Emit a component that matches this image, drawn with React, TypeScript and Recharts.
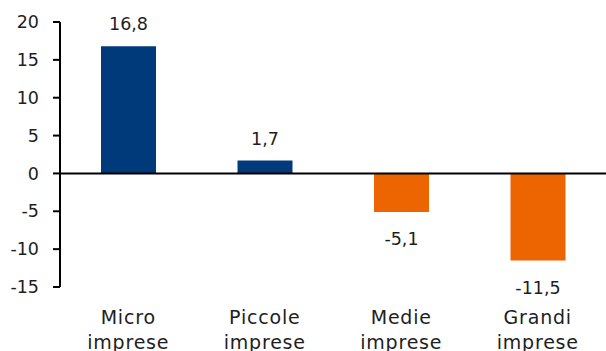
import { BarChart, Bar, XAxis, YAxis, Cell, LabelList, ReferenceLine } from 'recharts';

const CATEGORIES = ['Micro imprese', 'Piccole imprese', 'Medie imprese', 'Grandi imprese'];
const VALUES = [16.8, 1.7, -5.1, -11.5];
const Y_TICKS = [-15, -10, -5, 0, 5, 10, 15, 20];

const POS_COLOR = '#003A7A';
const NEG_COLOR = '#EC6500';
const FONT = '"DejaVu Sans", sans-serif';
const TXT = '#1E1E1E';

const data = CATEGORIES.map((c, i) => ({ name: c, value: VALUES[i] }));

const fmt = (v: number) => v.toFixed(1).replace('.', ',');

function CatTick({ x, y, payload }: any) {
  const [a, b] = String(payload.value).split(' ');
  return (
    <text x={x} y={y} textAnchor="middle" fill={TXT} fontSize={19} fontFamily={FONT} letterSpacing={0.8}>
      <tspan x={x} dy={37}>{a}</tspan>
      <tspan x={x} dy={25}>{b}</tspan>
    </text>
  );
}

function ValueLabel({ x, y, width, height, value }: any) {
  const top = Math.min(y, y + height);
  const bottom = Math.max(y, y + height);
  const cy = value >= 0 ? top - 22 : bottom + 27;
  return (
    <text x={x + width / 2} y={cy} textAnchor="middle" dominantBaseline="central" fill={TXT} fontSize={17.5} fontFamily={FONT}>
      {fmt(value)}
    </text>
  );
}

export default function App() {
  return (
    <div style={{ width: 606, height: 351 }}>
      <style>{`body{margin:0}`}</style>
      <BarChart width={606} height={351} data={data} margin={{ top: 22, right: 0, left: 0, bottom: 0 }} barSize={55}>
        <XAxis dataKey="name" axisLine={false} tickLine={false} tickSize={0} tickMargin={0} height={64} interval={0} tick={<CatTick />} />
        <YAxis
          type="number" domain={[-15, 20]} ticks={Y_TICKS} width={60} interval={0}
          axisLine={{ stroke: '#000', strokeWidth: 2 }} tickLine={{ stroke: '#000', strokeWidth: 2 }}
          tickSize={7} tickMargin={14}
          tick={{ fill: TXT, fontSize: 17.5, fontFamily: FONT }}
        />
        <Bar dataKey="value" isAnimationActive={false}>
          {data.map((d, i) => <Cell key={i} fill={d.value >= 0 ? POS_COLOR : NEG_COLOR} />)}
          <LabelList dataKey="value" content={<ValueLabel />} />
        </Bar>
        <ReferenceLine y={0} stroke="#000" strokeWidth={2} />
      </BarChart>
    </div>
  );
}
